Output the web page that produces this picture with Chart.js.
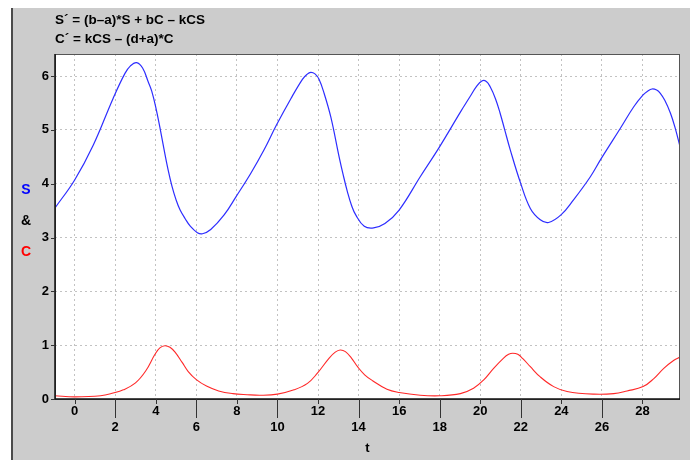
<!DOCTYPE html>
<html>
<head>
<meta charset="utf-8">
<script src="https://cdn.jsdelivr.net/npm/chart.js@4/dist/chart.umd.min.js"></script>
<style>
  body { margin: 0; background: #fff; }
  canvas { display: block; }
</style>
</head>
<body>
<canvas id="chart" width="690" height="462"></canvas>
<script>
// S(t)
const tS = [-0.97, 0, 0.92, 1.9, 2.48, 2.75, 3.05, 3.35, 3.63, 3.8, 4.0, 4.2, 4.4, 4.6, 4.8, 5.0, 5.2, 5.45, 5.7, 6.05, 6.3, 6.71,
    7.37, 7.96, 8.68, 9.34, 9.95, 10.66, 11.23, 11.45, 11.64, 11.85, 12.05, 12.3, 12.63, 13.04, 13.25, 13.45, 13.65, 13.86,
    14.28, 14.74, 15.3, 16, 17.04, 18, 19.02, 19.5, 19.8, 20.08, 20.3, 20.49, 20.75, 20.98, 21.2, 21.48, 21.99, 22.47,
    22.96, 23.37, 23.98, 24.6, 25.43, 25.97, 26.91, 27.57, 28.03, 28.25, 28.47, 28.7, 28.88, 29.1, 29.38, 29.6, 29.85];
const sVals = [3.55, 4.07, 4.72, 5.59, 6.05, 6.19, 6.25, 6.15, 5.89, 5.72, 5.42, 5.05, 4.65, 4.27, 3.95, 3.70, 3.51, 3.35, 3.21, 3.09, 3.07, 3.15,
    3.42, 3.76, 4.19, 4.63, 5.09, 5.58, 5.94, 6.03, 6.07, 6.04, 5.94, 5.68, 5.24, 4.50, 4.15, 3.85, 3.60, 3.42,
    3.21, 3.18, 3.26, 3.51, 4.13, 4.69, 5.33, 5.62, 5.80, 5.91, 5.90, 5.80, 5.58, 5.31, 5.01, 4.63, 4.01, 3.54,
    3.33, 3.28, 3.42, 3.70, 4.13, 4.47, 5.03, 5.43, 5.65, 5.72, 5.76, 5.74, 5.68, 5.55, 5.31, 5.05, 4.69];

// C(t)
const tC = [-0.97, 0, 1.28, 1.9, 2.4, 3.0, 3.5, 3.96, 4.2, 4.45, 4.7, 4.95, 5.3, 5.6, 6.0, 6.5, 7.1, 7.8, 8.5, 9.18, 10.0, 10.82,
    11.48, 11.97, 12.55, 12.85, 13.09, 13.35, 13.65, 13.95, 14.3, 14.69, 15.4, 16, 17.04, 18, 19.02, 19.67, 20.16, 20.66,
    21.15, 21.4, 21.6, 21.85, 22.1, 22.47, 22.96, 23.62, 24.28, 25.6, 26.58, 27.24, 28.03, 28.56, 29.05, 29.55, 29.85];
const cVals = [0.06, 0.04, 0.06, 0.11, 0.17, 0.30, 0.52, 0.83, 0.95, 0.99, 0.96, 0.87, 0.68, 0.51, 0.36, 0.24, 0.15, 0.10, 0.08, 0.07, 0.09, 0.17,
    0.29, 0.48, 0.76, 0.87, 0.91, 0.88, 0.76, 0.60, 0.45, 0.34, 0.18, 0.12, 0.07, 0.06, 0.10, 0.20, 0.35, 0.57,
    0.76, 0.83, 0.85, 0.83, 0.75, 0.60, 0.41, 0.23, 0.14, 0.09, 0.10, 0.15, 0.23, 0.38, 0.57, 0.72, 0.78];

const equations = ['S\u00B4 = (b\u2013a)*S + bC \u2013 kCS', 'C\u00B4 = kCS \u2013 (d+a)*C'];
const xMin = -0.97, xMax = 29.85, xStep = 2;
const yMin = 0, yMax = 6.41, yStep = 1;

const FONT = '"Liberation Sans", Arial, sans-serif';

function toPoints(xs, ys) {
    return xs.map((x, i) => ({ x: x, y: ys[i] }));
}

// gray panel, equations, axis frame, tick marks, S & C label
const panelPlugin = {
    id: 'panel',
    beforeDraw(chart) {
        const c = chart.ctx;
        const a = chart.chartArea;
        c.save();
        c.fillStyle = '#ffffff';
        c.fillRect(0, 0, chart.width, chart.height);
        c.fillStyle = '#cccccc';
        c.fillRect(13, 8, chart.width - 13, 452);
        c.fillStyle = '#4a4a4a';
        c.fillRect(11, 8, 2, 452);
        c.fillStyle = '#ffffff';
        c.fillRect(a.left, a.top, a.right - a.left, a.bottom - a.top);
        c.restore();
    },
    afterDraw(chart) {
        const c = chart.ctx;
        const a = chart.chartArea;
        const xs = chart.scales.x;
        const ys = chart.scales.y;
        c.save();

        // frame
        c.strokeStyle = '#555555';
        c.lineWidth = 1;
        c.strokeRect(a.left + 0.5, a.top + 0.5, a.right - a.left - 1, a.bottom - a.top);
        c.strokeStyle = '#111111';
        c.lineWidth = 1.5;
        c.beginPath();
        c.moveTo(a.left, a.top);
        c.lineTo(a.left, a.bottom);
        c.lineTo(a.right, a.bottom);
        c.stroke();

        // x tick marks: short for 0,4,8.. long for 2,6,10..
        c.strokeStyle = '#333333';
        c.lineWidth = 1;
        xs.ticks.forEach(t => {
            const px = Math.round(xs.getPixelForValue(t.value)) + 0.5;
            const longTick = (t.value / 2) % 2 !== 0;
            c.beginPath();
            c.moveTo(px, a.bottom);
            c.lineTo(px, a.bottom + (longTick ? 19 : 5));
            c.stroke();
        });
        ys.ticks.forEach(t => {
            const py = Math.round(ys.getPixelForValue(t.value)) + 0.5;
            c.beginPath();
            c.moveTo(a.left - 4, py);
            c.lineTo(a.left, py);
            c.stroke();
        });

        // equations
        c.fillStyle = '#000000';
        c.font = 'bold 13.5px ' + FONT;
        c.textAlign = 'left';
        c.textBaseline = 'middle';
        c.fillText(equations[0], 55, 20.5);
        c.fillText(equations[1], 55, 39.5);

        // y axis label
        c.textAlign = 'center';
        c.font = 'bold 14px ' + FONT;
        c.fillStyle = '#0000ff';
        c.fillText('S', 26, 190);
        c.fillStyle = '#000000';
        c.fillText('&', 26, 221);
        c.fillStyle = '#ff0000';
        c.fillText('C', 26, 252);
        c.restore();
    }
};

new Chart(document.getElementById('chart'), {
    type: 'line',
    data: {
        datasets: [
            {
                label: 'S',
                data: toPoints(tS, sVals),
                borderColor: 'rgb(45, 45, 255)',
                borderWidth: 1.2,
                pointRadius: 0,
                tension: 0.4,
                fill: false
            },
            {
                label: 'C',
                data: toPoints(tC, cVals),
                borderColor: 'rgb(255, 40, 40)',
                borderWidth: 1.1,
                pointRadius: 0,
                tension: 0.4,
                fill: false
            }
        ]
    },
    options: {
        responsive: false,
        animation: false,
        layout: {
            padding: { left: 0, top: 54, right: 10, bottom: 0 }
        },
        plugins: {
            legend: { display: false },
            tooltip: { enabled: false }
        },
        scales: {
            x: {
                type: 'linear',
                min: xMin,
                max: xMax,
                afterFit: scale => { scale.height = 63; },
                grid: { color: '#c2c2c2', lineWidth: 1, drawTicks: false },
                border: { display: false, dash: [2, 3] },
                ticks: {
                    stepSize: xStep,
                    includeBounds: false,
                    autoSkip: false,
                    maxRotation: 0,
                    padding: 5,
                    color: '#000000',
                    font: { family: FONT, size: 13, weight: 'bold', lineHeight: 1.2 },
                    callback: v => ((v / 2) % 2 !== 0 ? ['', String(v)] : String(v))
                },
                title: {
                    display: true,
                    text: 't',
                    color: '#000000',
                    font: { family: FONT, size: 13, weight: 'bold', lineHeight: 1.2 },
                    padding: { top: 0, bottom: 6 }
                }
            },
            y: {
                min: yMin,
                max: yMax,
                afterFit: scale => { scale.width = 55; },
                grid: { color: '#c2c2c2', lineWidth: 1, drawTicks: false },
                border: { display: false, dash: [2, 3] },
                ticks: {
                    stepSize: yStep,
                    includeBounds: false,
                    padding: 6,
                    color: '#000000',
                    font: { family: FONT, size: 13, weight: 'bold' }
                }
            }
        }
    },
    plugins: [panelPlugin]
});
</script>
</body>
</html>
